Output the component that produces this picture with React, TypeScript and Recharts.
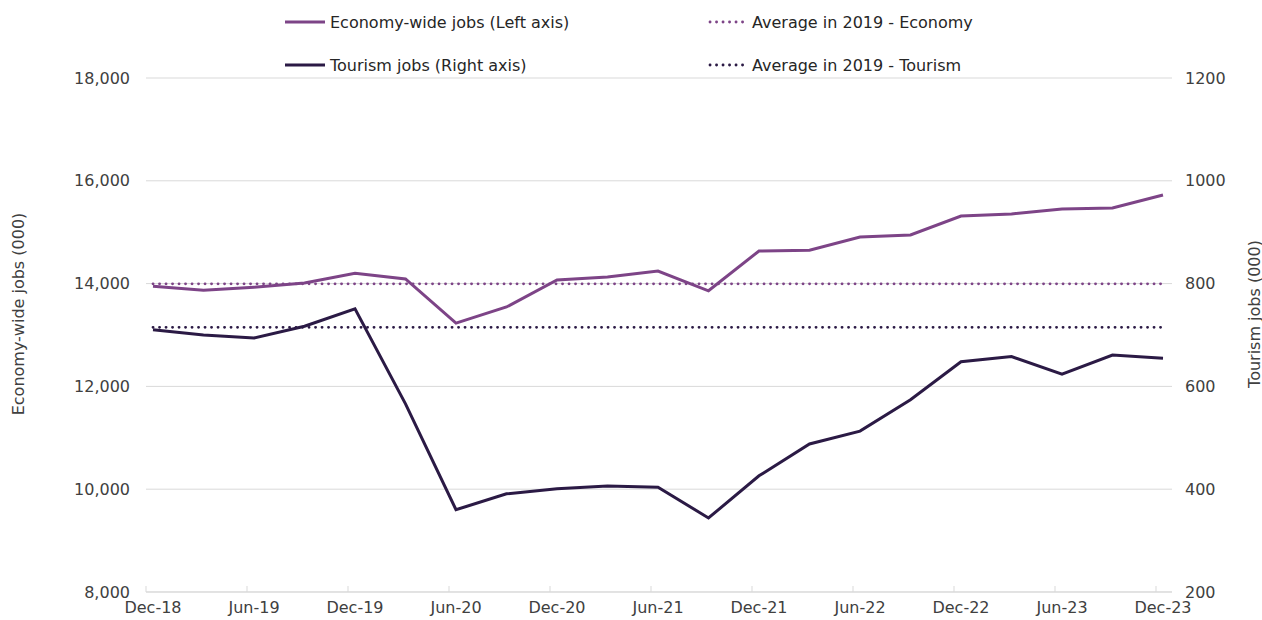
import { CartesianGrid, Line, LineChart, XAxis, YAxis } from "recharts";

const quarters = [
  "Dec-18", "Mar-19", "Jun-19", "Sep-19", "Dec-19", "Mar-20", "Jun-20", "Sep-20",
  "Dec-20", "Mar-21", "Jun-21", "Sep-21", "Dec-21", "Mar-22", "Jun-22", "Sep-22",
  "Dec-22", "Mar-23", "Jun-23", "Sep-23", "Dec-23",
];

// economy-wide jobs (000), left axis
const economyJobs = [
  13950, 13870, 13930, 14010, 14200, 14090, 13230, 13545, 14070, 14130, 14245,
  13860, 14635, 14650, 14905, 14945, 15315, 15355, 15450, 15470, 15725,
];

// tourism jobs (000), right axis
const tourismJobs = [
  710, 700, 694, 717, 751, 566, 360, 391, 401, 406, 404, 344, 426, 488, 513, 574,
  648, 658, 624, 661, 655,
];

const economyAvg2019 = 13995;
const tourismAvg2019 = 715;

const leftTicks = [8000, 10000, 12000, 14000, 16000, 18000];
const rightTicks = [200, 400, 600, 800, 1000, 1200];

const ECON = "#7d4487";
const TOUR = "#2b1a45";
const FONT = "'DejaVu Sans', Verdana, sans-serif";
const TXT = "#404040";

const data = quarters.map((q, i) => ({
  q,
  economy: economyJobs[i],
  tourism: tourismJobs[i],
  economyAvg: economyAvg2019,
  tourismAvg: tourismAvg2019,
}));

function QuarterTick({ x, y, payload }: any) {
  return (
    <g>
      <line x1={x - 7} x2={x - 7} y1={y} y2={y - 6} stroke="#d9d9d9" />
      <text x={x} y={y + 21} textAnchor="middle" fill={TXT} fontSize={16} fontFamily={FONT}>
        {payload.value}
      </text>
    </g>
  );
}

function LegendItem({ left, top, color, dotted, label }: any) {
  return (
    <div style={{ position: "absolute", left, top: top - 11, height: 22, display: "flex", alignItems: "center" }}>
      <svg width={42} height={6} style={{ marginRight: 3 }}>
        {dotted ? (
          <line x1={3} x2={38} y1={3} y2={3} stroke={color} strokeWidth={2.8} strokeDasharray="0.1 6.4" strokeLinecap="round" />
        ) : (
          <line x1={0} x2={40} y1={3} y2={3} stroke={color} strokeWidth={3} />
        )}
      </svg>
      <span style={{ fontFamily: FONT, fontSize: 16, color: "#262626", whiteSpace: "nowrap" }}>{label}</span>
    </div>
  );
}

function AxisTitle({ viewBox, value, dx }: any) {
  const cx = viewBox.x + dx;
  const cy = 314;
  return (
    <text
      transform={`translate(${cx}, ${cy}) rotate(-90)`}
      textAnchor="middle"
      dominantBaseline="central"
      fill={TXT}
      fontSize={16}
      fontFamily={FONT}
    >
      {value}
    </text>
  );
}

export default function App() {
  return (
    <div style={{ position: "absolute", left: 0, top: 0, width: 1262, height: 620, background: "#fff" }}>
      <LegendItem left={285} top={22} color={ECON} label="Economy-wide jobs (Left axis)" />
      <LegendItem left={285} top={65} color={TOUR} label="Tourism jobs (Right axis)" />
      <LegendItem left={707} top={22} color={ECON} dotted label="Average in 2019 - Economy" />
      <LegendItem left={707} top={65} color={TOUR} dotted label="Average in 2019 - Tourism" />
      <LineChart width={1262} height={620} data={data} margin={{ top: 78, right: 30, bottom: 0, left: 86 }}>
        <CartesianGrid vertical={false} stroke="#d9d9d9" yAxisId="left" />
        <XAxis
          dataKey="q"
          height={28}
          interval={1}
          padding={{ left: 7, right: 9 }}
          axisLine={{ stroke: "#d9d9d9" }}
          tickLine={false}
          tickSize={0}
          tickMargin={0}
          tick={<QuarterTick />}
        />
        <YAxis
          yAxisId="left"
          width={60}
          domain={[8000, 18000]}
          ticks={leftTicks}
          axisLine={false}
          tickLine={false}
          tickSize={0}
          tickMargin={16}
          tickFormatter={(v: number) => v.toLocaleString("en-US")}
          tick={{ fill: TXT, fontSize: 16, fontFamily: FONT }}
          label={<AxisTitle value="Economy-wide jobs (000)" dx={-68} />}
        />
        <YAxis
          yAxisId="right"
          orientation="right"
          width={60}
          domain={[200, 1200]}
          ticks={rightTicks}
          axisLine={false}
          tickLine={false}
          tickSize={0}
          tickMargin={13}
          tick={{ fill: TXT, fontSize: 16, fontFamily: FONT }}
          label={<AxisTitle value="Tourism jobs (000)" dx={82} />}
        />
        <Line yAxisId="left" dataKey="economyAvg" stroke={ECON} strokeWidth={2.8} strokeDasharray="0.1 6.4" strokeLinecap="round" dot={false} isAnimationActive={false} />
        <Line yAxisId="right" dataKey="tourismAvg" stroke={TOUR} strokeWidth={2.8} strokeDasharray="0.1 6.4" strokeLinecap="round" dot={false} isAnimationActive={false} />
        <Line yAxisId="left" dataKey="economy" stroke={ECON} strokeWidth={3} dot={false} isAnimationActive={false} />
        <Line yAxisId="right" dataKey="tourism" stroke={TOUR} strokeWidth={3} dot={false} isAnimationActive={false} />
      </LineChart>
    </div>
  );
}
